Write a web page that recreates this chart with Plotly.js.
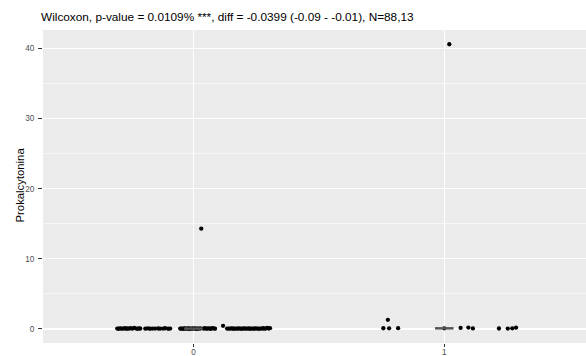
<!DOCTYPE html>
<html>
<head>
<meta charset="utf-8">
<script src="https://cdn.plot.ly/plotly-3.0.1.min.js"></script>
<style>html,body{margin:0;padding:0;background:#fff;}#chart{width:586px;height:356px;}</style>
</head>
<body>
<div id="chart"></div>
<script>
// Categories (x positions) and tick labels
var categories = [0, 1];
var tickLabels = ['0', '1'];
var titleText = 'Wilcoxon, p-value = 0.0109% ***, diff = -0.0399 (-0.09 - -0.01), N=88,13';
var yTitle = 'Prokalcytonina';

// Group "0": jittered x positions and Prokalcytonina values (88 points)
var group0X = [
  -0.304,-0.298,-0.292,-0.286,-0.280,-0.274,-0.268,-0.262,-0.256,-0.250,-0.244,-0.236,-0.228,-0.222,-0.216,-0.212,
  -0.192,-0.182,-0.173,-0.163,-0.153,
  -0.141,-0.133,-0.121,-0.113,-0.101,-0.093,
  -0.053,-0.049,-0.045,-0.039,-0.035,-0.031,-0.025,-0.021,-0.017,-0.013,-0.009,-0.003,0.001,0.007,0.011,0.015,0.021,0.027,
  0.039,0.045,0.051,0.055,0.061,0.067,0.071,0.076,0.082,0.086,
  0.118,
  0.134,0.140,0.146,0.152,0.158,0.162,0.168,0.174,0.180,0.186,0.192,0.198,0.202,0.208,0.214,0.220,0.226,0.232,0.238,0.242,0.248,0.254,0.260,0.266,0.272,0.278,0.282,0.288,0.294,0.300,0.305,
  0.031
];
var group0Y = [
  0.05,0.03,0.08,0.04,0.06,0.10,0.03,0.07,0.05,0.12,0.04,0.15,0.06,0.03,0.09,0.05,
  0.04,0.08,0.03,0.06,0.05,
  0.07,0.04,0.05,0.10,0.03,0.06,
  0.05,0.04,0.06,0.03,0.08,0.05,0.04,0.07,0.03,0.05,0.06,0.04,0.09,0.05,0.03,0.06,0.04,0.07,
  0.05,0.10,0.04,0.06,0.08,0.03,0.05,0.12,0.06,0.04,
  0.45,
  0.06,0.04,0.05,0.08,0.03,0.06,0.05,0.04,0.07,0.05,0.03,0.06,0.09,0.04,0.05,0.07,0.03,0.06,0.05,0.04,0.08,0.05,0.03,0.06,0.05,0.10,0.04,0.06,0.15,0.05,0.12,
  14.3
];

// Group "1": jittered x positions and values (13 points)
var group1X = [0.757,0.775,0.780,0.816,1.000,1.020,1.065,1.096,1.114,1.218,1.253,1.271,1.286];
var group1Y = [0.10,1.30,0.09,0.12,0.09,40.6,0.15,0.20,0.08,0.07,0.06,0.09,0.18];

// Medians per group
var medians = [0.05, 0.09];
var medianHalfWidth = 0.037;

var traces = [];
traces.push({
  type: 'scatter', mode: 'markers',
  x: group0X, y: group0Y,
  marker: {color: '#000000', size: 4.3},
  showlegend: false
});
traces.push({
  type: 'scatter', mode: 'markers',
  x: group1X, y: group1Y,
  marker: {color: '#000000', size: 4.3},
  showlegend: false
});
categories.forEach(function(c, i){
  traces.push({
    type: 'scatter', mode: 'lines',
    x: [c - medianHalfWidth, c + medianHalfWidth],
    y: [medians[i], medians[i]],
    line: {color: '#555555', width: 2.5},
    hoverinfo: 'skip', showlegend: false
  });
});

var layout = {
  width: 586, height: 356,
  margin: {l: 43, r: 0, t: 30, b: 13, pad: 0},
  paper_bgcolor: '#ffffff',
  plot_bgcolor: '#EBEBEB',
  font: {family: 'Liberation Sans, Arial, sans-serif', color: '#000'},
  annotations: [{
    text: titleText,
    xref: 'paper', yref: 'paper',
    x: (227 - 43) / 543, y: 1 + 13.5 / 313,
    xanchor: 'center', yanchor: 'middle',
    showarrow: false,
    font: {size: 11.8, color: '#000', family: 'Liberation Sans, Arial, sans-serif'}
  }, {
    text: yTitle,
    xref: 'paper', yref: 'paper',
    x: (19.5 - 43) / 543, y: 0.505,
    xanchor: 'center', yanchor: 'middle',
    textangle: -90,
    showarrow: false,
    font: {size: 11.3, color: '#000', family: 'Liberation Sans, Arial, sans-serif'}
  }],
  xaxis: {
    range: [-0.6, 1.565],
    tickvals: categories, ticktext: tickLabels,
    showgrid: true, gridcolor: '#ffffff', gridwidth: 1.1,
    zeroline: false, showline: false,
    ticks: 'outside', ticklen: 3, tickcolor: '#333333', tickwidth: 1,
    ticklabelstandoff: -2,
    tickfont: {size: 8.2, color: '#4d4d4d'},
    fixedrange: true
  },
  yaxis: {
    range: [-2.0, 42.63],
    tickvals: [0, 10, 20, 30, 40],
    showgrid: true, gridcolor: '#ffffff', gridwidth: 1.1,
    minor: {tickvals: [5, 15, 25, 35], showgrid: true, gridcolor: '#ffffff', gridwidth: 0.55},
    zeroline: false, showline: false,
    ticks: 'outside', ticklen: 4, tickcolor: '#333333', tickwidth: 1,
    ticklabelstandoff: 2,
    tickfont: {size: 8.2, color: '#4d4d4d'},
    fixedrange: true
  }
};

Plotly.newPlot('chart', traces, layout, {displayModeBar: false, staticPlot: true});
</script>
</body>
</html>
